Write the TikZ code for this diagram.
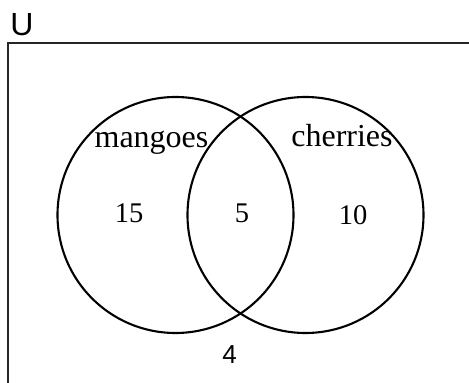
\documentclass[tikz,border=0pt]{standalone}
\usepackage{fontspec}
\setmainfont{Liberation Serif}
\newfontfamily\labelsans{Liberation Sans}

\tikzset{
    setcircle/.style={circle, draw, line width=2.1pt, inner sep=0pt, minimum size=236pt},
    setname/.style={font=\fontsize{32}{36}\selectfont, inner sep=0pt, anchor=base},
    settext/.style={font=\fontsize{28.5}{32}\selectfont, inner sep=0pt, anchor=base},
    sanstext/.style={font=\labelsans\fontsize{26}{30}\selectfont, inner sep=0pt, anchor=base}
}

\begin{document}
\begin{tikzpicture}[x=1pt, y=-1pt]
    \useasboundingbox (0,0) rectangle (469,383);

    % universal set (runs off the page)
    \coordinate (corner) at (8,43);
    \coordinate (topend) at (469,43);
    \coordinate (leftend) at (8,383);
    \draw[line width=1.8pt, black!85] (topend) -- (corner) -- (leftend);
    \node[sanstext, font=\labelsans\fontsize{32}{36}\selectfont] (universe) at (22,35) {U};

    % the two sets
    \node[setcircle] (mangoes) at (175.5,215) {};
    \node[setcircle] (cherries) at (305.5,215) {};

    \node[setname] (mangoeslabel) at (151.5,147) {mangoes};
    \node[setname] (cherrieslabel) at (342,146) {cherries};

    % counts
    \node[settext] (onlymangoes) at (129,222) {15};
    \node[settext] (both) at (242,222) {5};
    \node[settext] (onlycherries) at (353,224) {10};
    \node[sanstext] (neither) at (229.5,363) {4};
\end{tikzpicture}
\end{document}
